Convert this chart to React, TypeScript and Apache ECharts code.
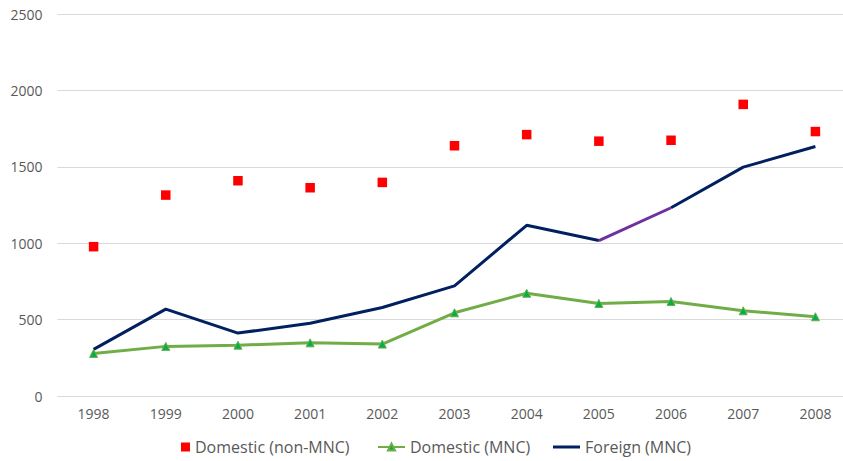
import React, { useEffect, useRef } from "react";
import * as echarts from "echarts";

const years = ["1998", "1999", "2000", "2001", "2002", "2003", "2004", "2005", "2006", "2007", "2008"];
const domesticNonMNC = [978, 1316, 1410, 1364, 1399, 1639, 1712, 1669, 1675, 1910, 1732];
const domesticMNC = [279, 325, 333, 348, 340, 545, 673, 606, 619, 558, 519];
const foreignMNC = [305, 569, 412, 477, 580, 721, 1118, 1018, 1233, 1499, 1634];
const yTicks = [0, 500, 1000, 1500, 2000, 2500];
const highlightFrom = 7; // 2005 -> 2006 segment drawn in purple

const FONT = "'Open Sans', 'Liberation Sans', sans-serif";
const TXT = "#595959";

export default function App() {
  const ref = useRef<HTMLDivElement>(null);
  useEffect(() => {
    if (!ref.current) return;
    const chart = echarts.init(ref.current, undefined, { renderer: "svg" });
    const navyA = foreignMNC.map((v, i) => (i <= highlightFrom ? v : null));
    const navyB = foreignMNC.map((v, i) => (i >= highlightFrom + 1 ? v : null));
    const purple = foreignMNC.map((v, i) => (i === highlightFrom || i === highlightFrom + 1 ? v : null));
    const legendText = { color: TXT, fontFamily: FONT, fontSize: 16 };
    const navyLine = {
      type: "line",
      symbol: "none",
      connectNulls: false,
      lineStyle: { color: "#002060", width: 3 },
      itemStyle: { color: "#002060" },
      z: 3,
    };
    chart.setOption({
      animation: false,
      textStyle: { fontFamily: FONT },
      grid: { left: 57.5, width: 794, top: 14.3, bottom: 65, outerBoundsMode: "none", containLabel: false },
      xAxis: {
        type: "category",
        data: years,
        boundaryGap: true,
        axisLine: { show: false },
        axisTick: { show: false },
        axisLabel: { color: TXT, fontSize: 14, fontFamily: FONT, margin: 10 },
      },
      yAxis: {
        type: "value",
        min: yTicks[0],
        max: yTicks[yTicks.length - 1],
        interval: 500,
        axisLine: { show: false },
        axisTick: { show: false },
        splitLine: { lineStyle: { color: "#D9D9D9", width: 1 } },
        axisLabel: {
          color: TXT,
          fontSize: 14,
          fontFamily: FONT,
          margin: 15,
          formatter: (v: number) => String(v),
        },
      },
      legend: [
        {
          data: [{ name: "Domestic (non-MNC)", icon: "rect" }],
          left: 181,
          top: 439,
          padding: 0,
          itemWidth: 9,
          itemHeight: 9,
          textStyle: legendText,
        },
        {
          data: ["Domestic (MNC)"],
          left: 377,
          top: 439,
          padding: 0,
          itemWidth: 27,
          itemHeight: 9,
          textStyle: legendText,
        },
        {
          data: [{ name: "Foreign (MNC)", icon: "path://M0,0h27v3h-27z" }],
          left: 553,
          top: 439,
          padding: 0,
          itemWidth: 27,
          itemHeight: 9,
          textStyle: legendText,
        },
      ],
      series: [
        {
          name: "Domestic (non-MNC)",
          type: "scatter",
          data: domesticNonMNC,
          symbol: "rect",
          symbolSize: 9.5,
          itemStyle: { color: "#FF0000", opacity: 1 },
          z: 5,
        },
        {
          name: "Domestic (MNC)",
          type: "line",
          data: domesticMNC,
          symbol: "triangle",
          symbolSize: 8,
          showSymbol: true,
          lineStyle: { color: "#70AD47", width: 3 },
          itemStyle: { color: "#00B050", borderColor: "#70AD47", borderWidth: 1 },
          z: 3,
        },
        { ...navyLine, name: "Foreign (MNC)", data: navyA },
        { ...navyLine, name: "Foreign (MNC) cont.", data: navyB },
        {
          name: "Foreign (MNC) highlight",
          type: "line",
          data: purple,
          symbol: "none",
          connectNulls: false,
          lineStyle: { color: "#7030A0", width: 3 },
          itemStyle: { color: "#7030A0" },
          z: 10,
        },
      ],
    });
    return () => chart.dispose();
  }, []);
  return <div ref={ref} style={{ width: 843, height: 461, position: "absolute", left: 0, top: 0 }} />;
}
